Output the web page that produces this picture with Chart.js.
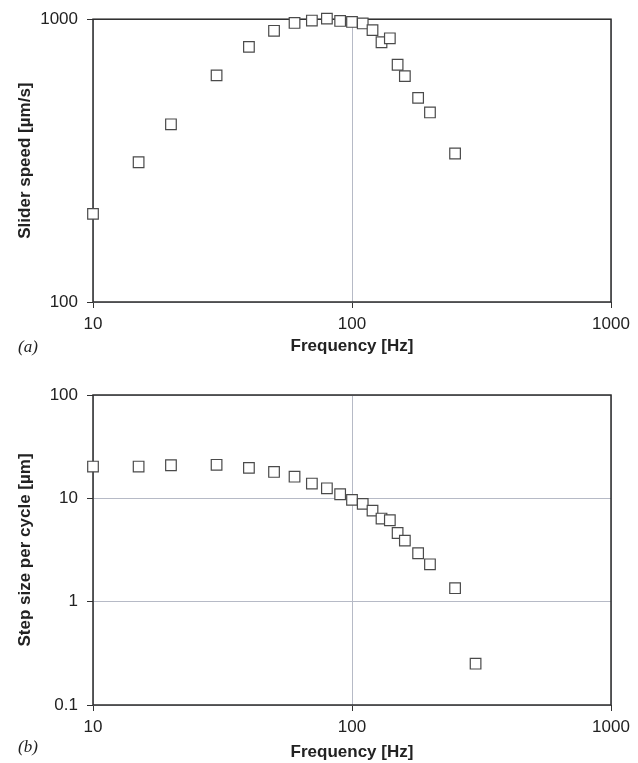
<!DOCTYPE html>
<html>
<head>
<meta charset="utf-8">
<script src="https://cdn.jsdelivr.net/npm/chart.js@4"></script>
<style>
  html, body { margin: 0; padding: 0; background: #fff; }
  #wrap { position: relative; width: 638px; height: 763px; }
  canvas { position: absolute; left: 0; }
  #speedChart { top: 0; }
  #stepChart { top: 370px; }
  .tag { position: absolute; left: 18px; font: italic 17px "Liberation Serif", "Times New Roman", serif; color: #222; line-height: 20px; }
</style>
</head>
<body>
<div id="wrap">
  <canvas id="speedChart" width="638" height="370"></canvas>
  <canvas id="stepChart" width="638" height="393"></canvas>
  <div class="tag" style="top:337px">(a)</div>
  <div class="tag" style="top:737px">(b)</div>
</div>
<script>
// Panel (a): slider speed against drive frequency
const freqHz = [10, 15, 20, 30, 40, 50, 60, 70, 80, 90, 100, 110, 120, 130, 140, 150, 160, 180, 200, 250];
const sliderSpeed = [205, 312, 425, 633, 798, 910, 970, 989, 1005, 986, 978, 966, 915, 829, 856, 690, 629, 527, 468, 335];

// Panel (b): step size per cycle against drive frequency
const stepFreqHz = [10, 15, 20, 30, 40, 50, 60, 70, 80, 90, 100, 110, 120, 130, 140, 150, 160, 180, 200, 250, 300];
const stepSize = [20.3, 20.3, 20.9, 21.1, 19.7, 18.0, 16.2, 13.9, 12.5, 10.95, 9.66, 8.83, 7.6, 6.37, 6.14, 4.62, 3.90, 2.94, 2.30, 1.35, 0.251];

// Axis tick values
const freqTicks = [10, 100, 1000];
const speedTicks = [100, 1000];
const stepTicks = [0.1, 1, 10, 100];

const FONT = '"Liberation Sans", Arial, Helvetica, sans-serif';
const TEXT = '#222';

const framePlugin = {
  id: 'frame',
  beforeDatasetsDraw(chart) {
    const { ctx, chartArea: a } = chart;
    ctx.save();
    ctx.strokeStyle = '#2b2b2b';
    ctx.lineWidth = 1.5;
    ctx.strokeRect(a.left, a.top, a.right - a.left, a.bottom - a.top);
    ctx.restore();
  }
};

function fixedTicks(values) {
  return scale => { scale.ticks = values.map(v => ({ value: v })); };
}

function makeChart(id, xs, ys, yTicks, yMin, yMax, yTitle, pad, xTitleBottom) {
  const points = xs.map((x, i) => ({ x: x, y: ys[i] }));
  return new Chart(document.getElementById(id), {
    type: 'scatter',
    data: {
      datasets: [{
        data: points,
        pointStyle: 'rect',
        pointRadius: 7.5,
        pointBorderWidth: 1.2,
        pointBorderColor: '#4a4a4a',
        pointBackgroundColor: '#ffffff',
        clip: false
      }]
    },
    options: {
      responsive: false,
      animation: false,
      events: [],
      layout: { padding: pad },
      plugins: { legend: { display: false }, tooltip: { enabled: false } },
      scales: {
        x: {
          type: 'logarithmic',
          min: 10,
          max: 1000,
          afterBuildTicks: fixedTicks(freqTicks),
          afterFit: s => { s.height = 58; },
          border: { display: false },
          grid: { color: '#b6bac6', tickColor: '#333', tickLength: 6, lineWidth: 1 },
          ticks: {
            padding: 6,
            color: TEXT,
            font: { family: FONT, size: 17 },
            maxRotation: 0,
            callback: v => String(v)
          },
          title: {
            display: true,
            text: 'Frequency [Hz]',
            color: TEXT,
            font: { family: FONT, size: 17, weight: 'bold' },
            padding: { top: 0, bottom: xTitleBottom }
          }
        },
        y: {
          type: 'logarithmic',
          min: yMin,
          max: yMax,
          afterBuildTicks: fixedTicks(yTicks),
          afterFit: s => { s.width = 93; },
          border: { display: false },
          grid: { color: '#b6bac6', tickColor: '#333', tickLength: 6, lineWidth: 1 },
          ticks: {
            padding: 9,
            color: TEXT,
            font: { family: FONT, size: 17 },
            callback: v => String(v)
          },
          title: {
            display: true,
            text: yTitle,
            color: TEXT,
            font: { family: FONT, size: 17, weight: 'bold' },
            padding: { top: 15, bottom: 0 }
          }
        }
      }
    },
    plugins: [framePlugin]
  });
}

makeChart('speedChart', freqHz, sliderSpeed, speedTicks, 100, 1000,
  'Slider speed [\u00b5m/s]', { left: 0, right: 27, top: 16, bottom: 10 }, 3);
makeChart('stepChart', stepFreqHz, stepSize, stepTicks, 0.1, 100,
  'Step size per cycle [\u00b5m]', { left: 0, right: 27, top: 25, bottom: 0 }, 0);
</script>
</body>
</html>
